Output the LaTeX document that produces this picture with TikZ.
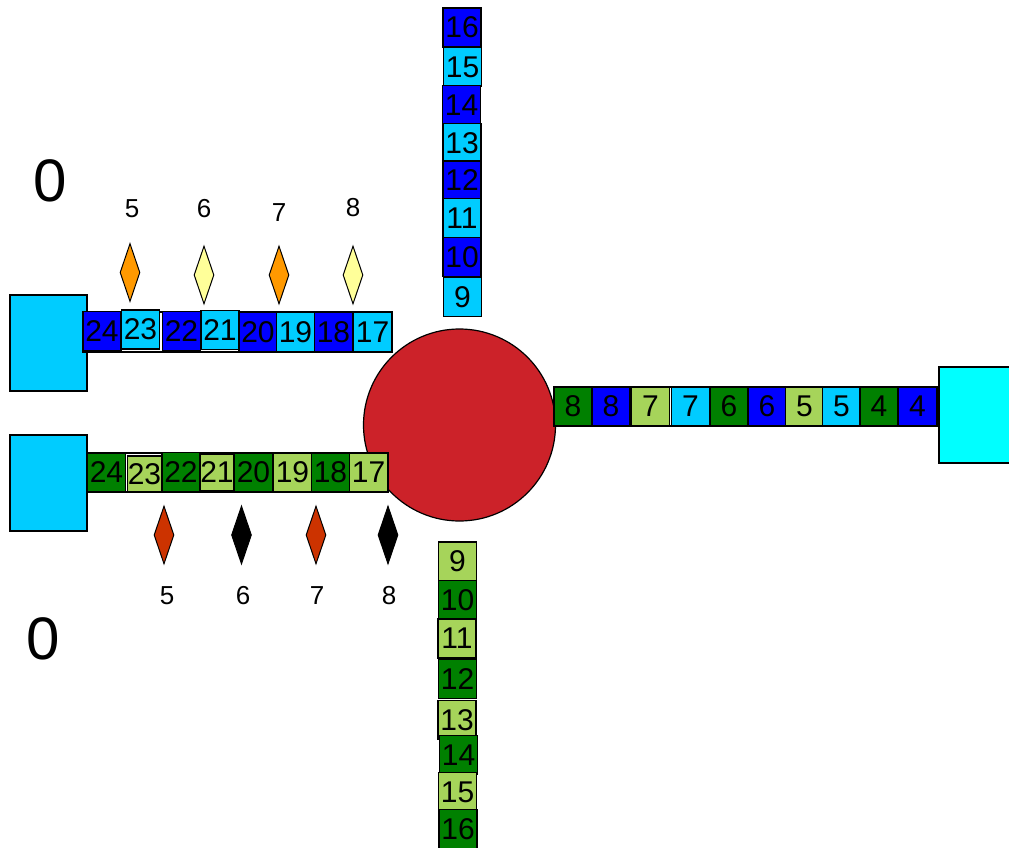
\documentclass[tikz,border=0pt]{standalone}
\usepackage{fontspec}
\setmainfont{Liberation Sans}
\usetikzlibrary{shapes.geometric}
\definecolor{cblue}{RGB}{0,0,255}
\definecolor{ccyan}{RGB}{0,204,255}
\definecolor{cdkgreen}{RGB}{0,128,0}
\definecolor{cltgreen}{RGB}{166,212,90}
\definecolor{cred}{RGB}{204,34,41}
\definecolor{corange}{RGB}{255,153,0}
\definecolor{cyellow}{RGB}{255,255,153}
\definecolor{crust}{RGB}{204,51,0}
\definecolor{caqua}{RGB}{0,255,255}
\tikzset{
  cell/.style={draw=black, line width=1.2pt, inner sep=0pt, minimum width=38pt, minimum height=39pt, font=\fontsize{30}{30}\selectfont},
  bar/.style={draw=black, line width=1.2pt, fill=white},
  bigsq/.style={draw=black, line width=1.2pt, inner sep=0pt, minimum width=77pt, minimum height=96pt},
  gem/.style={diamond, draw=black, line width=1pt, inner sep=0pt, minimum width=20pt, minimum height=58pt},
  lbl/.style={inner sep=0pt, font=\fontsize{26}{26}\selectfont},
  zero/.style={inner sep=0pt, font=\fontsize{60}{60}\selectfont},
}
\begin{document}
\begin{tikzpicture}[x=1pt,y=-1pt]
\useasboundingbox (0,0) rectangle (1009,848);
\clip (0,0) rectangle (1009,848);
% big zero labels
\node[zero] (z1) at (50,181) {0};
\node[zero] (z2) at (43,639) {0};
% hub
\node[circle, draw=black, line width=1.2pt, fill=cred, minimum size=192pt, inner sep=0pt] (hub) at (459.5,425) {};
% end squares
\node[bigsq, fill=ccyan] (sqA) at (48.5,343) {};
\node[bigsq, fill=ccyan] (sqB) at (48.5,483) {};
\node[draw=black, line width=1.2pt, fill=caqua, inner sep=0pt, minimum width=80pt, minimum height=96pt] (sqC) at (979,415) {};
% bars
\node[bar, inner sep=0pt, minimum width=309pt, minimum height=40pt] (barA) at (237.5,332) {};
\node[bar, inner sep=0pt, minimum width=301pt, minimum height=39pt] (barB) at (237.5,472.5) {};
\node[bar, inner sep=0pt, minimum width=383pt, minimum height=39pt] (barC) at (745.5,406.5) {};
% top-left blue row
\node[cell, fill=cblue] (a24) at (102,331) {24};
\node[cell, fill=ccyan] (a23) at (140.5,329.5) {23};
\node[cell, fill=cblue] (a22) at (181.5,331) {22};
\node[cell, fill=ccyan] (a21) at (220,330) {21};
\node[cell, fill=cblue] (a20) at (258,332) {20};
\node[cell, fill=ccyan] (a19) at (295.5,332) {19};
\node[cell, fill=cblue] (a18) at (333.5,332) {18};
\node[cell, fill=ccyan] (a17) at (372.5,332) {17};
% bottom-left green row
\node[cell, fill=cdkgreen] (b24) at (106.5,472.5) {24};
\node[cell, fill=cltgreen, minimum width=33pt, minimum height=36pt] (b23) at (144.5,474) {23};
\node[cell, fill=cdkgreen] (b22) at (181,472) {22};
\node[cell, fill=cltgreen, minimum width=32pt, minimum height=37pt] (b21) at (217,472.5) {21};
\node[cell, fill=cdkgreen] (b20) at (253.5,472.5) {20};
\node[cell, fill=cltgreen] (b19) at (292.5,472.5) {19};
\node[cell, fill=cdkgreen] (b18) at (330.5,472.5) {18};
\node[cell, fill=cltgreen] (b17) at (368.5,472.5) {17};
% right row
\node[cell, fill=cdkgreen] (c8a) at (573,406.5) {8};
\node[cell, fill=cblue] (c8b) at (611,406.5) {8};
\node[cell, fill=cltgreen] (c7a) at (650.5,406.5) {7};
\node[cell, fill=ccyan] (c7b) at (690.5,406.5) {7};
\node[cell, fill=cdkgreen] (c6a) at (729,406.5) {6};
\node[cell, fill=cblue] (c6b) at (767,406.5) {6};
\node[cell, fill=cltgreen] (c5a) at (804.5,406.5) {5};
\node[cell, fill=ccyan] (c5b) at (841.5,406.5) {5};
\node[cell, fill=cdkgreen] (c4a) at (879,406.5) {4};
\node[cell, fill=cblue] (c4b) at (917.5,406.5) {4};
% top column
\node[cell, fill=cblue] (t16) at (462,27.5) {16};
\node[cell, fill=ccyan] (t15) at (462.5,67) {15};
\node[cell, fill=cblue] (t14) at (461.5,105) {14};
\node[cell, fill=ccyan] (t13) at (462,143) {13};
\node[cell, fill=cblue] (t12) at (462,180.5) {12};
\node[cell, fill=ccyan] (t11) at (462,218) {11};
\node[cell, fill=cblue] (t10) at (462,257) {10};
\node[cell, fill=ccyan] (t9) at (462.5,297) {9};
% bottom column
\node[cell, fill=cltgreen] (d9) at (457.5,561.5) {9};
\node[cell, fill=cdkgreen] (d10) at (457.5,600) {10};
\node[cell, fill=cltgreen] (d11) at (457,638.5) {11};
\node[cell, fill=cdkgreen] (d12) at (457.5,679) {12};
\node[cell, fill=cltgreen] (d13) at (457,720) {13};
\node[cell, fill=cdkgreen] (d14) at (458.5,755) {14};
\node[cell, fill=cltgreen] (d15) at (457.5,792) {15};
\node[cell, fill=cdkgreen] (d16) at (458,829) {16};
% top diamonds
\node[gem, fill=corange] (g5) at (130,272.5) {};
\node[gem, fill=cyellow] (g6) at (204,275) {};
\node[gem, fill=corange] (g7) at (279,275) {};
\node[gem, fill=cyellow] (g8) at (353,275) {};
\node[lbl] (l5) at (132,209) {5};
\node[lbl] (l6) at (204,209) {6};
\node[lbl] (l7) at (279,213) {7};
\node[lbl] (l8) at (353,208) {8};
% bottom diamonds
\node[gem, fill=crust] (h5) at (164,535) {};
\node[gem, fill=black] (h6) at (241.5,535) {};
\node[gem, fill=crust] (h7) at (316,535) {};
\node[gem, fill=black] (h8) at (388,535) {};
\node[lbl] (m5) at (167,596) {5};
\node[lbl] (m6) at (243,596) {6};
\node[lbl] (m7) at (317,596) {7};
\node[lbl] (m8) at (389,596) {8};
\end{tikzpicture}
\end{document}
